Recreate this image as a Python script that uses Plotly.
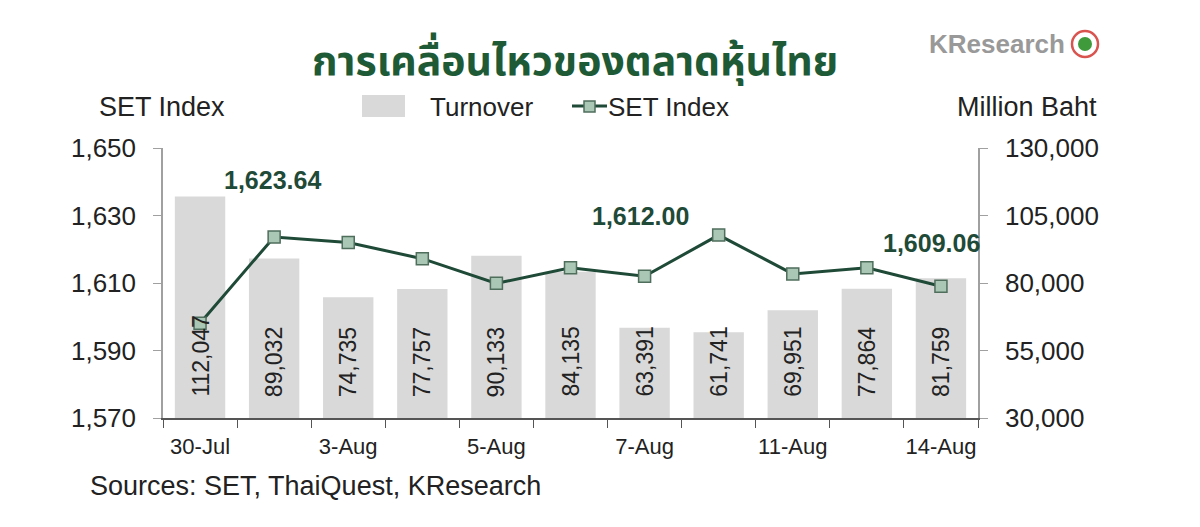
import plotly.graph_objects as go

dates = ["30-Jul", "31-Jul", "3-Aug", "4-Aug", "5-Aug", "6-Aug", "7-Aug",
         "10-Aug", "11-Aug", "13-Aug", "14-Aug"]
tick_labels = ["30-Jul", "", "3-Aug", "", "5-Aug", "", "7-Aug", "", "11-Aug", "", "14-Aug"]
turnover = [112047, 89032, 74735, 77757, 90133, 84135, 63391, 61741, 69951, 77864, 81759]
set_index = [1598.1, 1623.64, 1622.0, 1617.2, 1609.9, 1614.5, 1612.00, 1624.2, 1612.7, 1614.5, 1609.06]
labelled = {1: (-2, 57), 6: (-4, 60), 10: (-9, 43)}

# desired on-screen plot area (page has an 8px body margin)
L, R, T, B = 163, 978, 148, 418
W, H = 1200, 527
OFF = 8

def px(x):
    return (x - L) / (R - L)

def py(y):
    return (B - y) / (B - T)

FONT = "Liberation Sans, Arial, sans-serif"
GREEN = "#1f4a38"
TXT = "#222222"

fig = go.Figure()
fig.add_trace(go.Bar(
    x=dates, y=turnover, yaxis="y", name="Turnover",
    marker=dict(color="#d9d9d9", line=dict(width=0)), width=0.68,
))
fig.add_trace(go.Scatter(
    x=dates, y=set_index, yaxis="y2", name="SET Index", mode="lines+markers",
    line=dict(color=GREEN, width=3),
    marker=dict(symbol="square", size=12, color="#a9c7b4",
                line=dict(color="#4f6e5c", width=1.5)),
))

annotations = []
for d, v in zip(dates, turnover):
    annotations.append(dict(
        x=d, y=30000, xref="x", yref="y", text=f"{v:,}", showarrow=False,
        textangle=-90, xanchor="center", yanchor="bottom", yshift=19,
        font=dict(family=FONT, size=23, color=TXT),
    ))
for i, (xs, ys) in labelled.items():
    annotations.append(dict(
        x=dates[i], y=set_index[i], xref="x", yref="y2",
        text=f"<b>{set_index[i]:,.2f}</b>", showarrow=False,
        xshift=xs, yshift=ys,
        font=dict(family=FONT, size=25, color=GREEN),
    ))

def txt(x, y, s, size=26, color=TXT, anchor="left", family=FONT):
    annotations.append(dict(
        x=px(x), y=py(y), xref="paper", yref="paper", text=s,
        showarrow=False, xanchor=anchor, yanchor="middle", borderpad=0,
        font=dict(family=family, size=size, color=color),
    ))

txt(575, 62, "<b>การเคลื่อนไหวของตลาดหุ้นไทย</b>", size=41, color="#1e5a36",
    anchor="center", family="Noto Sans Thai, Loma, Tahoma, Noto Sans, sans-serif")
txt(1066, 44, "<b>KResearch</b>", size=26, color="#999999", anchor="right")
txt(98, 107, "SET Index", size=27, anchor="left")
txt(1098, 107, "Million Baht", size=27, anchor="right")
txt(429, 107, "Turnover", anchor="left")
txt(607, 107, "SET Index", anchor="left")
txt(89, 486, "Sources: SET, ThaiQuest, KResearch", size=27, anchor="left")

shapes = [
    dict(type="rect", xref="paper", yref="paper", x0=px(362), x1=px(405),
         y0=py(117), y1=py(95), fillcolor="#d9d9d9", line=dict(width=0)),
    dict(type="line", xref="paper", yref="paper", x0=px(572), x1=px(607),
         y0=py(106), y1=py(106), line=dict(color=GREEN, width=3)),
    dict(type="rect", xref="paper", yref="paper", x0=px(584), x1=px(595),
         y0=py(112), y1=py(101), fillcolor="#a9c7b4", line=dict(color="#4f6e5c", width=1.5)),
    dict(type="circle", xref="paper", yref="paper", x0=px(1072), x1=px(1098),
         y0=py(57), y1=py(31), fillcolor="#ffffff", line=dict(color="#d9534f", width=2.5)),
    dict(type="circle", xref="paper", yref="paper", x0=px(1078), x1=px(1092),
         y0=py(51), y1=py(37), fillcolor="#3e9a3a", line=dict(width=0)),
]

fig.update_layout(
    width=W, height=H,
    margin=dict(l=L - OFF, r=W + OFF - R, t=T - OFF, b=H + OFF - B, pad=0),
    paper_bgcolor="white", plot_bgcolor="white",
    showlegend=False, bargap=0.32,
    font=dict(family=FONT, size=26, color=TXT),
    xaxis=dict(
        type="category", tickmode="array", tickvals=dates, ticktext=tick_labels,
        tickson="boundaries", ticks="outside", ticklen=8, tickcolor="#555555",
        showline=True, linecolor="#555555", linewidth=1.5, showgrid=False,
        tickfont=dict(size=22, color=TXT), range=[-0.5, 10.5], tickangle=0,
        ticklabelstandoff=8,
    ),
    yaxis=dict(
        range=[30000, 130000], tickvals=[30000, 55000, 80000, 105000, 130000],
        tickformat=",", side="right", showgrid=False, zeroline=False,
        showline=True, linecolor="#a0a0a0", linewidth=1.5,
        ticks="outside", ticklen=8, tickcolor="#a0a0a0",
        tickfont=dict(size=26, color=TXT), ticklabelstandoff=12,
    ),
    yaxis2=dict(
        range=[1570, 1650], tickvals=[1570, 1590, 1610, 1630, 1650],
        tickformat=",", side="left", overlaying="y", showgrid=False, zeroline=False,
        showline=True, linecolor="#a0a0a0", linewidth=1.5,
        ticks="outside", ticklen=8, tickcolor="#a0a0a0",
        tickfont=dict(size=26, color=TXT), ticklabelstandoff=12,
    ),
    annotations=annotations, shapes=shapes,
)

fig.write_html("out.html")
